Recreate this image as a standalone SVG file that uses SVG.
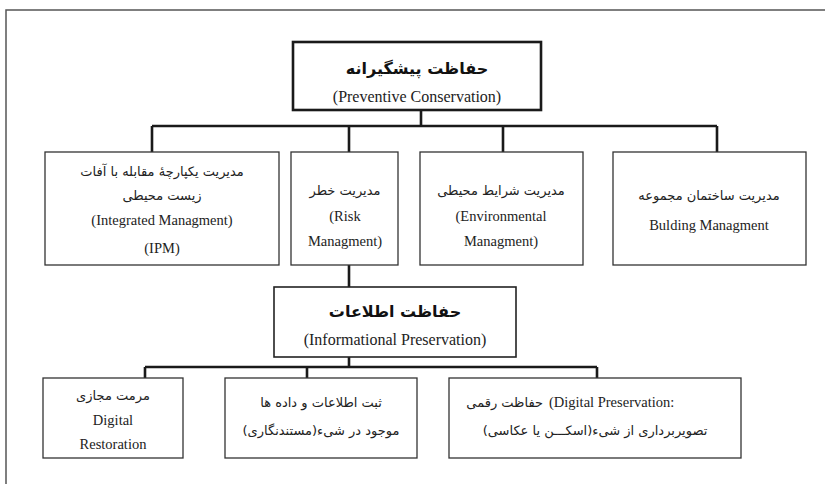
<svg xmlns="http://www.w3.org/2000/svg" width="825" height="484" viewBox="0 0 825 484">
<style>
.box{fill:#fff;stroke:#333;stroke-width:1.3}
.bold{fill:#fff;stroke:#1a1a1a;stroke-width:2.6}
.mid{fill:#fff;stroke:#222;stroke-width:1.6}
.con{fill:none;stroke:#1a1a1a;stroke-width:2.6}
.fa{font-family:"DejaVu Sans","Noto Sans",sans-serif;font-size:13px;fill:#222;text-anchor:middle;direction:rtl}
.fab{font-family:"DejaVu Sans","Noto Sans",sans-serif;font-size:16px;font-weight:bold;fill:#111;text-anchor:middle;direction:rtl}
.en{font-family:"Liberation Serif",serif;font-size:14.5px;fill:#222;text-anchor:middle}
.en2{font-family:"Liberation Serif",serif;font-size:16px;fill:#222;text-anchor:middle}
</style>
<rect x="6" y="10" width="840" height="500" fill="#fff" stroke="#555" stroke-width="1.5"/>
<g id="connectors">
<path class="con" d="M421 110V126M152 126H717M152 126V152M349 126V152M503 126V152M717 126V152"/>
<path class="con" d="M349 265V287M349 357V367M145 367H597M145 367V378M307 367V378M597 367V378"/>
</g>
<g id="n-preventive">
<rect class="bold" x="293" y="42" width="248" height="68"/>
<text class="fab" x="417" y="74">حفاظت پیشگیرانه</text>
<text class="en2" x="417" y="102">(Preventive Conservation)</text>
</g>
<g id="n-ipm">
<rect class="box" x="45" y="152" width="234" height="113"/>
<text class="fa" x="162" y="176">مدیریت یکپارچهٔ مقابله با آفات</text>
<text class="fa" x="162" y="200">زیست محیطی</text>
<text class="en" x="162" y="225">(Integrated Managment)</text>
<text class="en" x="162" y="253">(IPM)</text>
</g>
<g id="n-risk">
<rect class="box" x="291" y="152" width="107" height="113"/>
<text class="fa" x="345" y="195">مدیریت خطر</text>
<text class="en" x="345" y="221">(Risk</text>
<text class="en" x="345" y="246">Managment)</text>
</g>
<g id="n-env">
<rect class="box" x="420" y="152" width="163" height="113"/>
<text class="fa" x="501" y="195">مدیریت شرایط محیطی</text>
<text class="en" x="501" y="221">(Environmental</text>
<text class="en" x="501" y="246">Managment)</text>
</g>
<g id="n-building">
<rect class="box" x="613" y="152" width="193" height="113"/>
<text class="fa" x="709" y="200">مدیریت ساختمان مجموعه</text>
<text class="en" x="709" y="230">Bulding Managment</text>
</g>
<g id="n-info">
<rect class="mid" x="274" y="287" width="242" height="70"/>
<text class="fab" x="395" y="317">حفاظت اطلاعات</text>
<text class="en2" x="395" y="345">(Informational Preservation)</text>
</g>
<g id="n-restoration">
<rect class="box" x="43" y="378" width="140" height="80"/>
<text class="fa" x="113" y="400">مرمت مجازی</text>
<text class="en" x="113" y="425">Digital</text>
<text class="en" x="113" y="449">Restoration</text>
</g>
<g id="n-documentation">
<rect class="box" x="225" y="378" width="192" height="80"/>
<text class="fa" x="321" y="407">ثبت اطلاعات و داده ها</text>
<text class="fa" x="321" y="435">موجود در شیء(مستندنگاری)</text>
</g>
<g id="n-digital">
<rect class="box" x="449" y="378" width="292" height="80"/>
<text class="fa" x="543" y="407" style="text-anchor:end;direction:ltr">حفاظت رقمی</text>
<text class="en" x="549" y="407" style="text-anchor:start">(Digital Preservation:</text>
<text class="fa" x="595" y="435">تصویربرداری از شیء(اسکـــن یا عکاسی)</text>
</g>
</svg>
